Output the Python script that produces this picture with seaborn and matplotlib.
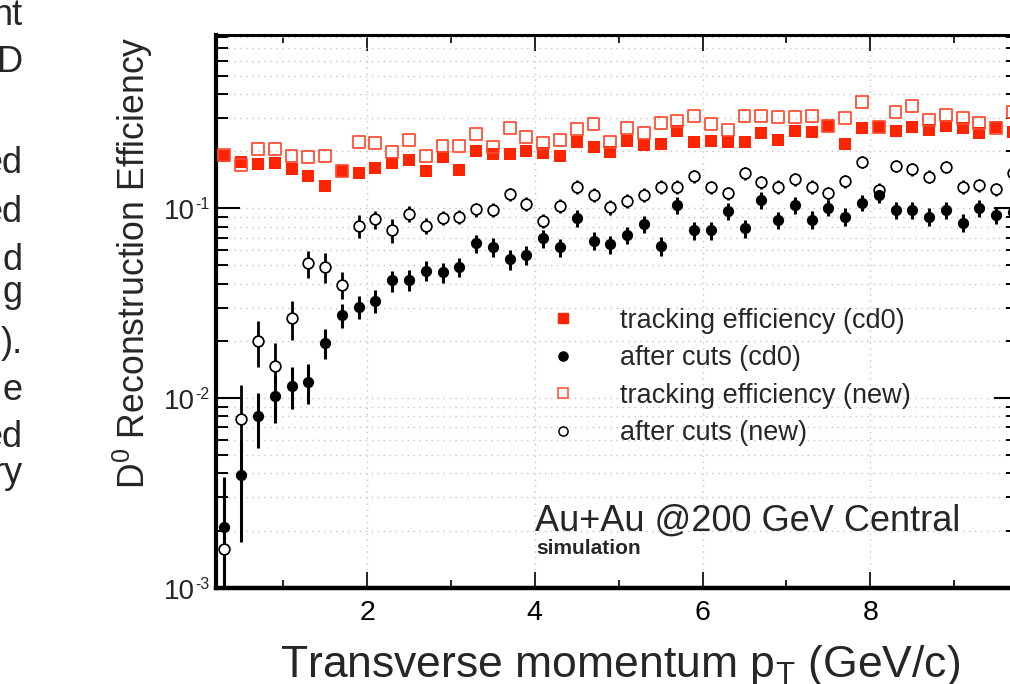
import numpy as np
import pandas as pd
import matplotlib
matplotlib.use("Agg")
import matplotlib.pyplot as plt
from matplotlib.lines import Line2D
from matplotlib.transforms import offset_copy
from matplotlib.ticker import LogLocator, MultipleLocator, FixedLocator, NullFormatter
import seaborn as sns

# ---------------- data ----------------
pt = [0.3, 0.5, 0.7, 0.9, 1.1, 1.3, 1.5, 1.7, 1.9, 2.1, 2.3, 2.5,
      2.7, 2.9, 3.1, 3.3, 3.5, 3.7, 3.9, 4.1, 4.3, 4.5, 4.7, 4.9,
      5.1, 5.3, 5.5, 5.7, 5.9, 6.1, 6.3, 6.5, 6.7, 6.9, 7.1, 7.3,
      7.5, 7.7, 7.9, 8.1, 8.3, 8.5, 8.7, 8.9, 9.1, 9.3, 9.5, 9.7]

trk_cd0 = [0.189, 0.176, 0.171, 0.174, 0.162, 0.148, 0.131, 0.158, 0.154, 0.164, 0.174, 0.180,
           0.157, 0.187, 0.160, 0.200, 0.193, 0.193, 0.200, 0.196, 0.189, 0.223, 0.211, 0.199,
           0.226, 0.217, 0.218, 0.256, 0.223, 0.226, 0.223, 0.223, 0.249, 0.229, 0.256, 0.252,
           0.272, 0.218, 0.264, 0.267, 0.256, 0.269, 0.259, 0.273, 0.264, 0.249, 0.269, 0.252]

cut_cd0 = [0.00208, 0.00393, 0.00804, 0.0102, 0.0116, 0.0122, 0.0196, 0.0274, 0.0303, 0.0325, 0.0417, 0.0419,
           0.0469, 0.0460, 0.0492, 0.0654, 0.0627, 0.0538, 0.0567, 0.0695, 0.0623, 0.0892, 0.0675, 0.0645,
           0.0723, 0.0826, 0.0635, 0.104, 0.0768, 0.0768, 0.0968, 0.0784, 0.1106, 0.0868, 0.104, 0.0871,
           0.101, 0.0903, 0.107, 0.1175, 0.098, 0.098, 0.0903, 0.098, 0.084, 0.100, 0.0922, 0.096]
cut_cd0_err = [0.00177, 0.00218, 0.0026, 0.0028, 0.0029, 0.0029, 0.0035, 0.0039, 0.0043, 0.0046, 0.0053, 0.0053,
               0.0056, 0.0056, 0.0058, 0.0072, 0.0070, 0.0064, 0.0066, 0.0075, 0.0070, 0.0090, 0.0074, 0.0072,
               0.0078, 0.0087, 0.0072, 0.0105, 0.0083, 0.0083, 0.0098, 0.0085, 0.0110, 0.0092, 0.0105, 0.0092,
               0.0100, 0.0095, 0.0105, 0.0112, 0.0100, 0.0100, 0.0095, 0.0100, 0.0092, 0.0102, 0.0097, 0.0100]

trk_new = [0.190, 0.169, 0.205, 0.205, 0.189, 0.186, 0.189, 0.158, 0.223, 0.220, 0.199, 0.229,
           0.189, 0.213, 0.213, 0.247, 0.211, 0.264, 0.237, 0.220, 0.229, 0.262, 0.277, 0.224,
           0.264, 0.250, 0.283, 0.290, 0.308, 0.277, 0.259, 0.308, 0.308, 0.302, 0.302, 0.308,
           0.272, 0.298, 0.365, 0.267, 0.321, 0.347, 0.292, 0.310, 0.300, 0.283, 0.264, 0.323]

cut_new = [0.0016, 0.00775, 0.0200, 0.0148, 0.0264, 0.0513, 0.0490, 0.0396, 0.0807, 0.0875, 0.0768, 0.0933,
           0.0810, 0.0892, 0.0903, 0.0988, 0.098, 0.1185, 0.1054, 0.086, 0.1032, 0.130, 0.1175, 0.1013,
           0.1093, 0.1175, 0.130, 0.130, 0.148, 0.129, 0.120, 0.153, 0.137, 0.130, 0.1427, 0.130,
           0.120, 0.139, 0.176, 0.125, 0.168, 0.161, 0.147, 0.166, 0.130, 0.132, 0.126, 0.153]
cut_new_err = [0.0008, 0.0039, 0.0054, 0.0048, 0.0062, 0.0084, 0.0088, 0.0064, 0.0110, 0.0095, 0.0110, 0.0090,
               0.0075, 0.0078, 0.0078, 0.0085, 0.0085, 0.0098, 0.0090, 0.0076, 0.0088, 0.0105, 0.0098, 0.0088,
               0.0092, 0.0098, 0.0105, 0.0105, 0.0115, 0.0105, 0.0100, 0.0118, 0.0110, 0.0105, 0.0112, 0.0105,
               0.0100, 0.0110, 0.0130, 0.0102, 0.0125, 0.0122, 0.0115, 0.0124, 0.0105, 0.0106, 0.0103, 0.0118]

legend_labels = ["tracking efficiency (cd0)", "after cuts (cd0)",
                 "tracking efficiency (new)", "after cuts (new)"]
y_ticks = [1e-3, 1e-2, 1e-1]
y_tick_exponents = ["-3", "-2", "-1"]
x_label = "Transverse momentum p$_{\\mathrm{T}}$ (GeV/c)"
y_label = "D$^{0}$ Reconstruction Efficiency"
system_text = "Au+Au @200 GeV Central"
sim_text = "simulation"
side_fragments = ["nt", "D", "ed", "ed", "d", "g", ").", "e", "ed", "ry"]
side_baselines = [25, 72, 173, 222, 270, 302, 353, 400, 447, 483]

df = pd.DataFrame({"pt": pt, "trk_cd0": trk_cd0, "cut_cd0": cut_cd0, "cut_cd0_err": cut_cd0_err,
                   "trk_new": trk_new, "cut_new": cut_new, "cut_new_err": cut_new_err})

# ---------------- style ----------------
sns.set_theme(style="ticks")
plt.rcParams["font.family"] = ["Liberation Sans", "DejaVu Sans"]
plt.rcParams["mathtext.fontset"] = "custom"
plt.rcParams["mathtext.rm"] = "Liberation Sans"
plt.rcParams["mathtext.it"] = "Liberation Sans:italic"
plt.rcParams["mathtext.bf"] = "Liberation Sans:bold"

RED = "#ff2400"
RED_OPEN = "#ff4a30"
W, H = 1010, 684

fig = plt.figure(figsize=(W / 100, H / 100), dpi=100)
fig.patch.set_facecolor("white")
ax_l, ax_r, ax_t, ax_b = 216, 1018, 35, 587.7
ax = fig.add_axes([ax_l / W, (H - ax_b) / H, (ax_r - ax_l) / W, (ax_b - ax_t) / H])
ax.set_facecolor("white")

# error bars (drawn below markers)
ax.errorbar(df["pt"], df["cut_cd0"], yerr=df["cut_cd0_err"], fmt="none",
            ecolor="black", elinewidth=2.2, capsize=0, zorder=2)
ax.errorbar(df["pt"], df["cut_new"], yerr=df["cut_new_err"], fmt="none",
            ecolor="black", elinewidth=2.0, capsize=0, zorder=2)

# markers
sns.scatterplot(data=df, x="pt", y="trk_cd0", marker="s", s=9.2 ** 2, color=RED,
                edgecolor=RED, linewidth=0, ax=ax, zorder=3, legend=False)
sns.scatterplot(data=df, x="pt", y="trk_new", marker="s", s=8.6 ** 2, facecolor="none",
                edgecolor=RED_OPEN, linewidth=1.25, ax=ax, zorder=4, legend=False)
sns.scatterplot(data=df, x="pt", y="cut_new", marker="o", s=7.7 ** 2, facecolor="white",
                edgecolor="black", linewidth=1.25, ax=ax, zorder=5, legend=False)
sns.scatterplot(data=df, x="pt", y="cut_cd0", marker="o", s=8.1 ** 2, color="black",
                edgecolor="black", linewidth=0, ax=ax, zorder=6, legend=False)

# axes scales / limits
ax.set_yscale("log")
ax.set_xlim(0.2, 9.76)
ax.set_ylim(1e-3, 0.82)
ax.xaxis.set_major_locator(MultipleLocator(2))
ax.xaxis.set_minor_locator(MultipleLocator(1))
ax.yaxis.set_major_locator(FixedLocator(y_ticks))
ax.yaxis.set_minor_locator(LogLocator(base=10, subs=np.arange(2, 10)))
ax.yaxis.set_major_formatter(NullFormatter())
ax.yaxis.set_minor_formatter(NullFormatter())
ax.set_xlabel("")
ax.set_ylabel("")

# ROOT-style y tick labels: "10" with a small superscript exponent
ytrans = ax.get_yaxis_transform()
for v, e in zip(y_ticks, y_tick_exponents):
    ax.text(0, v, "10", transform=offset_copy(ytrans, fig=fig, x=-21, y=-4, units="dots"),
            ha="right", va="center", fontsize=20, clip_on=False)
    ax.text(0, v, e, transform=offset_copy(ytrans, fig=fig, x=-21, y=-1, units="dots"),
            ha="left", va="baseline", fontsize=11.5, clip_on=False)

# grid
grid_kw = dict(color="#c4c4c4", linestyle=(0, (1, 3.3)), linewidth=1.0)
ax.grid(which="major", axis="x", **grid_kw)
ax.grid(which="both", axis="y", **grid_kw)
ax.set_axisbelow(True)

# ticks & spines
ax.tick_params(axis="y", which="major", direction="in", length=17, width=1.5,
               left=True, right=True, colors="black")
ax.tick_params(axis="y", which="minor", direction="in", length=8.6, width=1.4,
               left=True, right=True, colors="black")
ax.tick_params(axis="x", which="major", direction="in", length=11.5, width=1.2,
               bottom=True, top=True, labelsize=20.5, pad=9, colors="black")
ax.tick_params(axis="x", which="minor", direction="in", length=5.5, width=1.2,
               bottom=True, top=True, colors="black")
for side, lw in [("left", 3.0), ("bottom", 3.2), ("top", 2.2), ("right", 2.2)]:
    ax.spines[side].set_visible(True)
    ax.spines[side].set_linewidth(lw)
    ax.spines[side].set_color("black")

# legend
handles = [
    Line2D([], [], ls="none", marker="s", ms=7.2, mfc=RED, mec=RED),
    Line2D([], [], ls="none", marker="o", ms=6.6, mfc="black", mec="black"),
    Line2D([], [], ls="none", marker="s", ms=7.2, mfc="white", mec=RED_OPEN, mew=1.1),
    Line2D([], [], ls="none", marker="o", ms=6.6, mfc="white", mec="black", mew=1.1),
]
fig.legend(handles, legend_labels, loc="upper left",
           bbox_to_anchor=(549.5 / W, 1 - 307.5 / H), frameon=False, fontsize=19.5,
           handlelength=1.0, handletextpad=1.6, labelspacing=0.43,
           borderpad=0, borderaxespad=0)

# annotations
fig.text(535 / W, 1 - 530.7 / H, system_text, fontsize=26, va="baseline", ha="left")
fig.text(536 / W, 1 - 554 / H, sim_text, fontsize=15, fontweight="bold", va="baseline", ha="left")

# axis titles
fig.text(620 / W, 1 - 677 / H, x_label, fontsize=32, va="baseline", ha="center")
fig.text(133 / W, 1 - 36 / H, y_label, fontsize=25.7, rotation=90, va="top", ha="center")

# cropped slide text at the left edge
for frag, yb in zip(side_fragments, side_baselines):
    fig.text(23 / W, 1 - yb / H, frag, fontsize=26, va="baseline", ha="right")

fig.savefig("out.png", dpi=100, facecolor="white")
